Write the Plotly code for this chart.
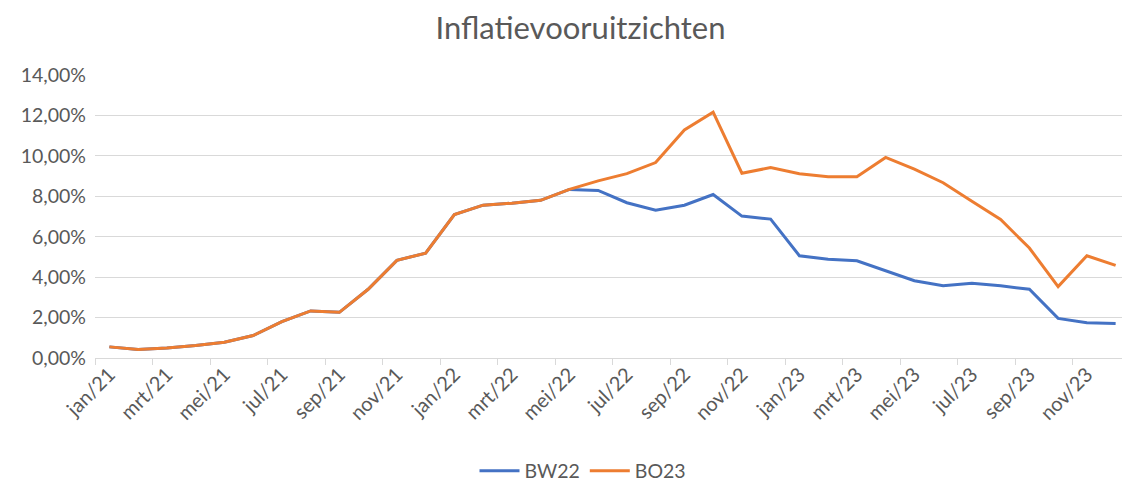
import plotly.graph_objects as go

months = ["jan/21", "feb/21", "mrt/21", "apr/21", "mei/21", "jun/21", "jul/21", "aug/21", "sep/21", "okt/21", "nov/21", "dec/21",
          "jan/22", "feb/22", "mrt/22", "apr/22", "mei/22", "jun/22", "jul/22", "aug/22", "sep/22", "okt/22", "nov/22", "dec/22",
          "jan/23", "feb/23", "mrt/23", "apr/23", "mei/23", "jun/23", "jul/23", "aug/23", "sep/23", "okt/23", "nov/23", "dec/23"]

bw22 = [0.55, 0.42, 0.50, 0.62, 0.78, 1.11, 1.80, 2.33, 2.26, 3.40, 4.83, 5.19,
        7.10, 7.56, 7.66, 7.80, 8.34, 8.29, 7.68, 7.31, 7.56, 8.09, 7.02, 6.87,
        5.06, 4.89, 4.81, 4.33, 3.82, 3.57, 3.70, 3.57, 3.40, 1.96, 1.74, 1.71]

bo23 = [0.55, 0.42, 0.50, 0.62, 0.78, 1.11, 1.80, 2.33, 2.26, 3.40, 4.83, 5.19,
        7.10, 7.56, 7.66, 7.80, 8.34, 8.76, 9.12, 9.67, 11.28, 12.16, 9.14, 9.42,
        9.12, 8.97, 8.97, 9.92, 9.34, 8.67, 7.76, 6.85, 5.44, 3.53, 5.06, 4.58]

y_ticks = [0, 2, 4, 6, 8, 10, 12, 14]
y_labels = ["0,00%", "2,00%", "4,00%", "6,00%", "8,00%", "10,00%", "12,00%", "14,00%"]

xi = list(range(len(months)))
label_idx = xi[::2]
label_txt = [months[i] for i in label_idx]
boundaries = [i - 0.5 for i in label_idx]

grey = "#595959"
# the page body has an 8px default margin, so the figure is sized to fit the window
W, H = 1122, 474

fig = go.Figure()
fig.add_trace(go.Scatter(x=xi, y=bw22, mode="lines", name="BW22",
                         line=dict(color="#4472C4", width=3)))
fig.add_trace(go.Scatter(x=xi, y=bo23, mode="lines", name="BO23",
                         line=dict(color="#ED7D31", width=3)))

fig.update_layout(
    width=W, height=H,
    margin=dict(l=87, r=0, t=67, b=124),
    paper_bgcolor="white", plot_bgcolor="white",
    font=dict(family="Lato", size=19.5, color=grey),
    title=dict(text="Inflatievooruitzichten", x=572.5 / W, xref="container", xanchor="center",
               y=1 - 20 / H, yref="container", yanchor="middle",
               font=dict(family="Lato", size=31, color=grey)),
    showlegend=True,
    legend=dict(orientation="h", x=575 / W, xref="container", xanchor="center",
                y=11 / H, yref="container", yanchor="middle",
                font=dict(size=19.5, color=grey), itemwidth=40),
    xaxis=dict(range=[-0.5, len(months) - 0.5], tickmode="array", tickvals=label_idx,
               ticktext=label_txt, tickangle=-45, ticks="", showgrid=False, zeroline=False,
               showline=False, tickfont=dict(size=20),
               minor=dict(tickmode="array", tickvals=boundaries, ticks="outside", ticklen=6,
                          tickcolor="#d9d9d9", tickwidth=1, showgrid=False)),
    yaxis=dict(range=[0, 14], tickmode="array", tickvals=y_ticks, ticktext=y_labels,
               showgrid=True, gridcolor="#d9d9d9", gridwidth=1, zeroline=True,
               zerolinecolor="#d9d9d9", zerolinewidth=1, showline=False, ticks="",
               ticklabelstandoff=8),
)

fig.write_html("out.html")
